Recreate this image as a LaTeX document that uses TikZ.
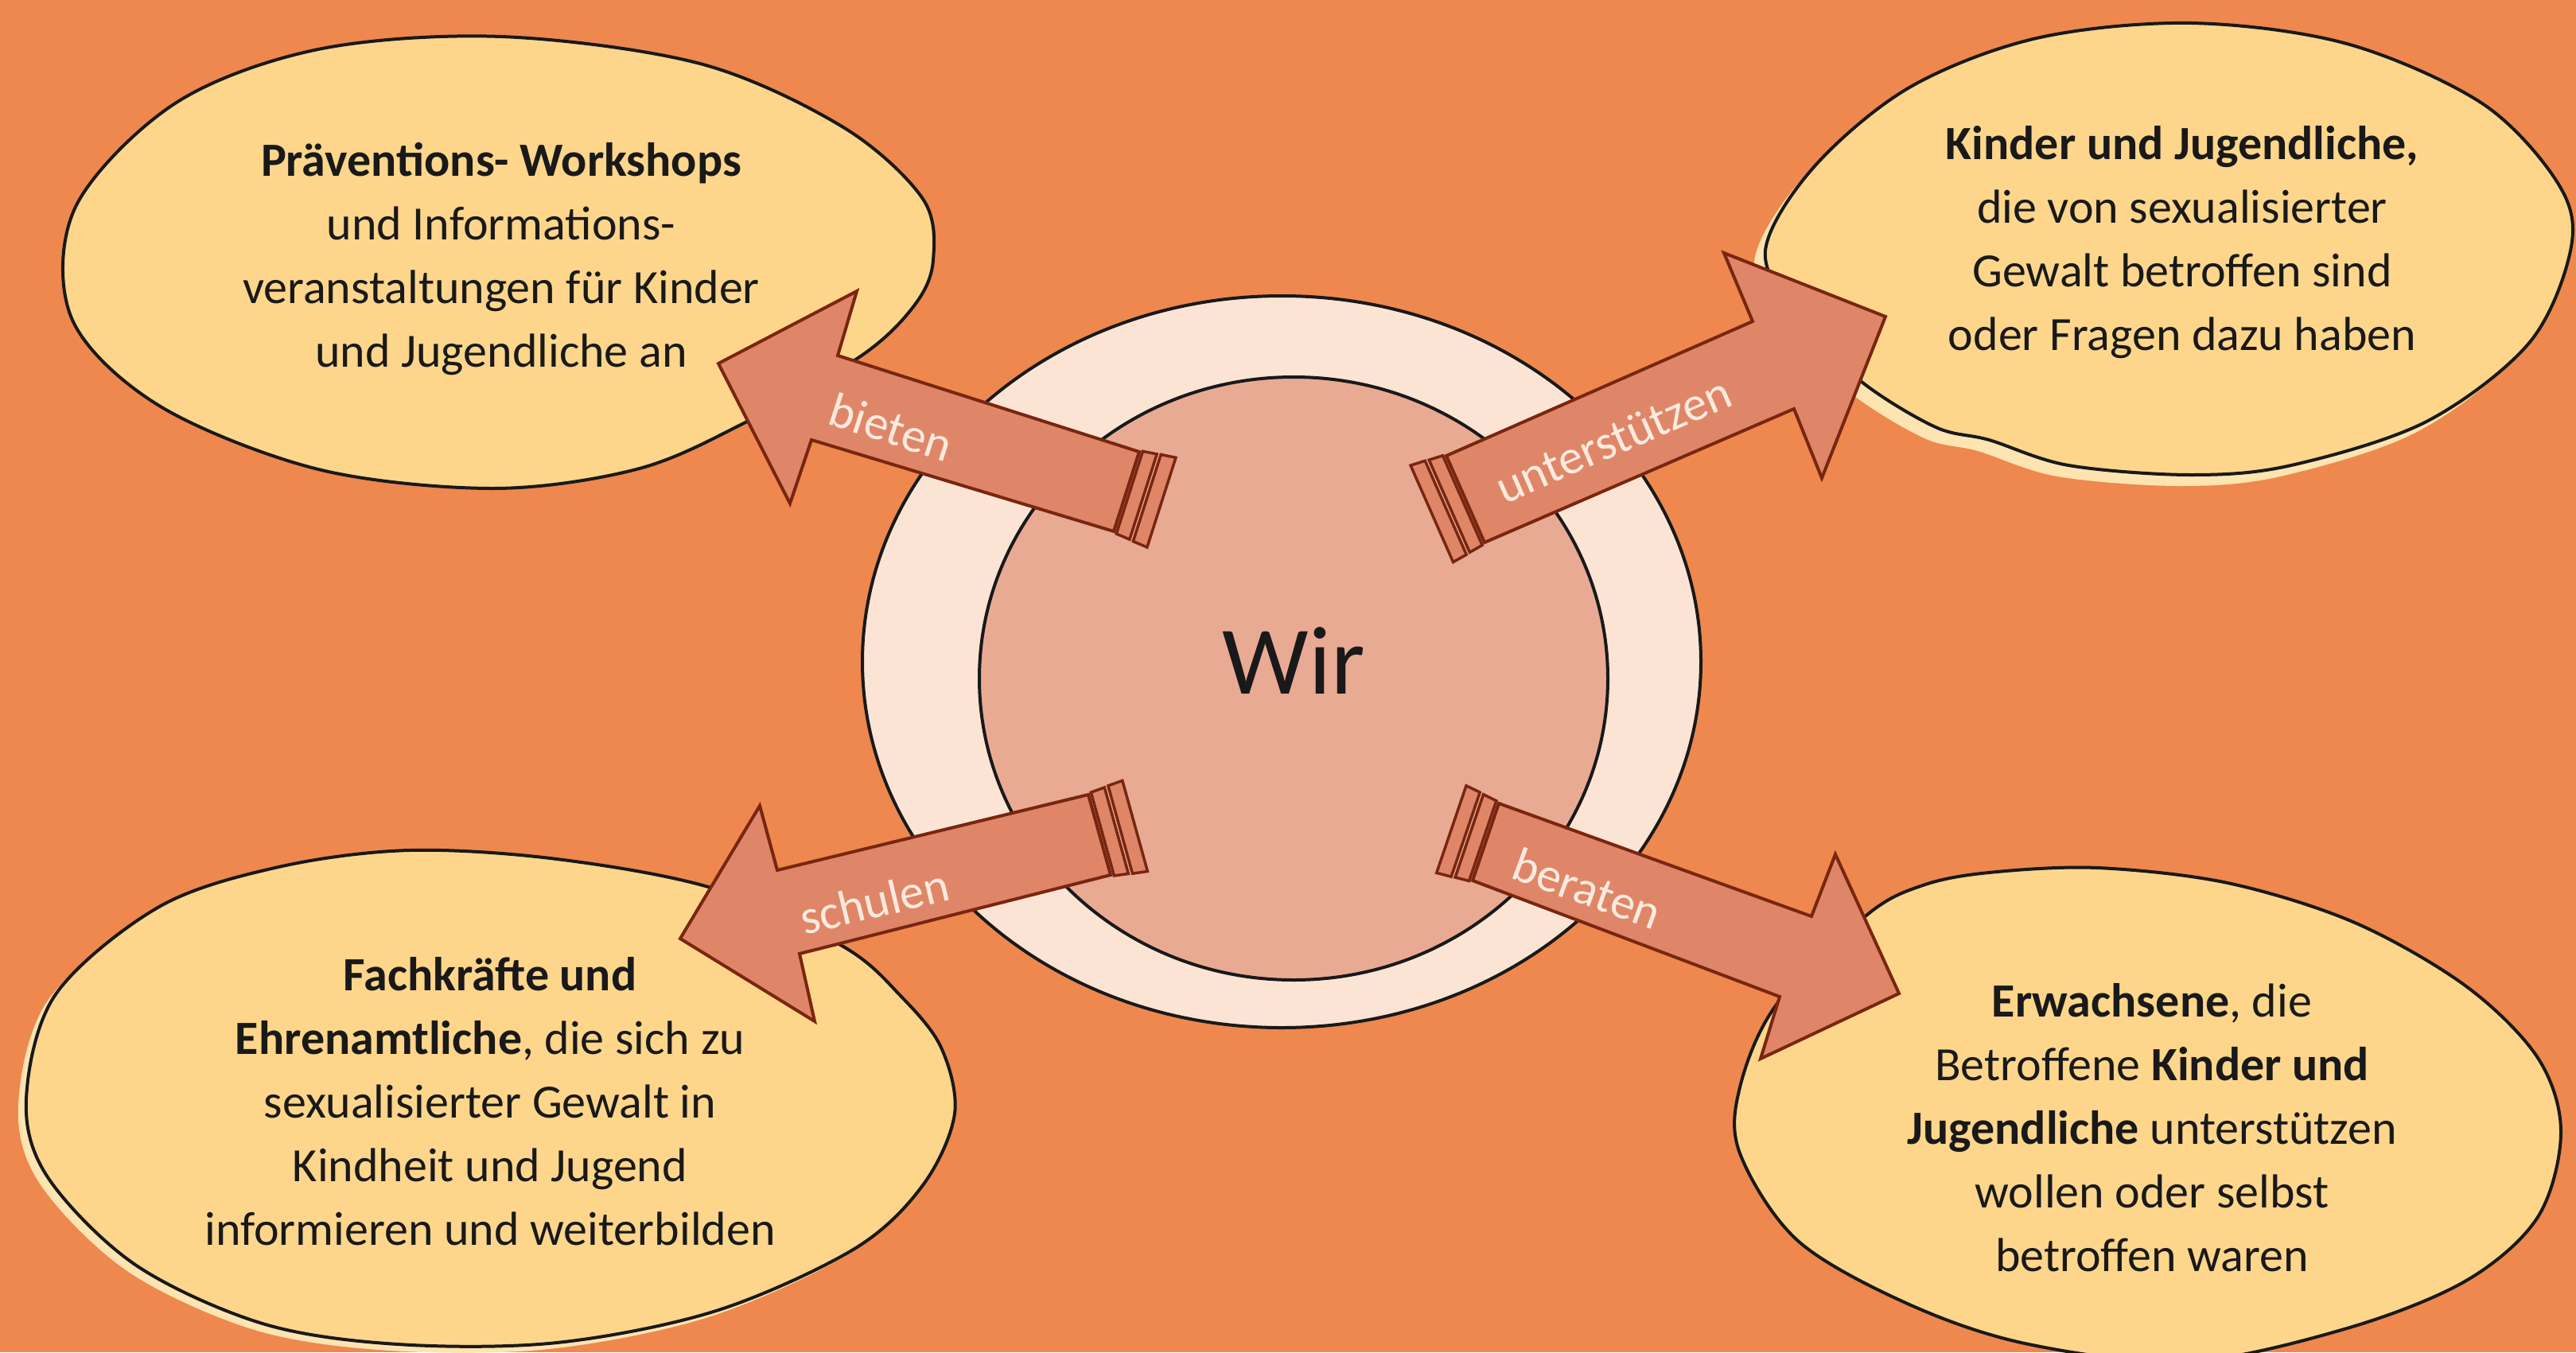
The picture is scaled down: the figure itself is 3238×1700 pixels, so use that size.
\documentclass[tikz,border=0pt]{standalone}
\usepackage{fontspec}
\setmainfont{Carlito}
\usetikzlibrary{calc}
\definecolor{bgorange}{RGB}{238,136,78}
\definecolor{blobyellow}{RGB}{253,214,140}
\definecolor{blobshade}{RGB}{253,228,176}
\definecolor{ringpeach}{RGB}{252,228,212}
\definecolor{corepink}{RGB}{233,170,148}
\definecolor{arrowfill}{RGB}{224,134,104}
\definecolor{arrowline}{RGB}{120,38,16}
\definecolor{arrowtext}{RGB}{252,234,222}
\tikzset{
  bubblefill/.style={fill=blobyellow},
  bubbleshade/.style={fill=blobshade},
  bubbleline/.style={draw=black!90, line width=4pt},
  bubbletext/.style={align=center, font=\fontsize{60}{80}\selectfont, text=black!90},
  ringstyle/.style={fill=ringpeach, draw=black!90, line width=4pt},
  corestyle/.style={fill=corepink, draw=black!90, line width=4pt},
  bigarrow/.style={fill=arrowfill, draw=arrowline, line width=4pt, line join=miter},
  capband/.style={fill=arrowfill, draw=arrowline, line width=3.5pt},
  arrowlabel/.style={font=\fontsize{61}{66}\selectfont, text=arrowtext},
}
\newcommand\drawblockarrow[1]{%
  \draw[bigarrow] (#1-T1) -- (#1-J1) -- (#1-B1) -- (#1-P) -- (#1-B2) -- (#1-J2) -- (#1-T2) -- cycle;
  \path ($(#1-T1)!-4pt!(#1-J1)$) coordinate (#1-a1) ($(#1-T2)!-4pt!(#1-J2)$) coordinate (#1-a2)
        ($(#1-T1)!-22pt!(#1-J1)$) coordinate (#1-b1) ($(#1-T2)!-22pt!(#1-J2)$) coordinate (#1-b2)
        ($(#1-T1)!-27pt!(#1-J1)$) coordinate (#1-c1) ($(#1-T2)!-27pt!(#1-J2)$) coordinate (#1-c2)
        ($(#1-T1)!-46pt!(#1-J1)$) coordinate (#1-d1) ($(#1-T2)!-46pt!(#1-J2)$) coordinate (#1-d2);
  \draw[capband] ($(#1-a1)!-2pt!(#1-a2)$) -- ($(#1-a2)!-2pt!(#1-a1)$) -- ($(#1-b2)!-4pt!(#1-b1)$) -- ($(#1-b1)!-4pt!(#1-b2)$) -- cycle;
  \draw[capband] ($(#1-c1)!-5pt!(#1-c2)$) -- ($(#1-c2)!-5pt!(#1-c1)$) -- ($(#1-d2)!-7pt!(#1-d1)$) -- ($(#1-d1)!-7pt!(#1-d2)$) -- cycle;
}
\begin{document}
\begin{tikzpicture}[x=1pt,y=-1pt]
\useasboundingbox (0,0) rectangle (3238,1700);
\fill[bgorange] (0,0) rectangle (3238,1700);

% ---------- bubbles ----------
\def\tlpts{(630,46) (880,80) (1060,160) (1160,250) (1173,327) (1150,383) (1083,447) (933,533) (800,590) (620,614) (400,590) (200,510) (90,400) (95,260) (220,130) (400,62)}
\def\trpts{(2219,315) (2280,210) (2400,110) (2560,48) (2754,29) (2950,55) (3120,130) (3215,230) (3232,310) (3180,430) (3050,530) (2880,585) (2754,597) (2600,585) (2500,553) (2433,537) (2340,480) (2260,400)}
\def\blpts{(514,1069) (700,1080) (897,1117) (1060,1190) (1133,1253) (1183,1317) (1200,1400) (1160,1490) (1074,1570) (900,1648) (700,1688) (500,1690) (330,1664) (170,1590) (60,1480) (33,1382) (70,1250) (200,1140) (350,1090)}
\def\brpts{(2636,1091) (2800,1110) (2960,1160) (3100,1240) (3190,1330) (3219,1423) (3190,1530) (3100,1610) (2950,1670) (2750,1712) (2550,1690) (2400,1640) (2260,1560) (2187,1450) (2187,1367) (2233,1263) (2347,1150) (2417,1113) (2500,1097)}

\fill[bubbleshade, shift={(-14,14)}] plot[smooth cycle, tension=0.55] coordinates {\trpts};
\fill[bubbleshade, shift={(-10,8)}] plot[smooth cycle, tension=0.55] coordinates {\blpts};
\foreach \pts in {\tlpts,\trpts,\blpts,\brpts}{
  \fill[bubblefill] plot[smooth cycle, tension=0.55] coordinates {\pts};
  \draw[bubbleline] plot[smooth cycle, tension=0.55] coordinates {\pts};
}

% ---------- centre ----------
\draw[ringstyle] (1611,832) ellipse [x radius=527, y radius=460];
\draw[corestyle] (1626,853) ellipse [x radius=395, y radius=379];
\node[font=\fontsize{122}{130}\selectfont, text=black!90] (wir) at (1626,831) {Wir};

% ---------- arrows ----------
% bieten (to top-left)
\coordinate (bi-T1) at (1432,568); \coordinate (bi-J1) at (1053,447); \coordinate (bi-B1) at (1077,366);
\coordinate (bi-P) at (903,457); \coordinate (bi-B2) at (993,633); \coordinate (bi-J2) at (1020,553);
\coordinate (bi-T2) at (1400,668);
% unterstuetzen (to top-right)
\coordinate (un-T1) at (1818,573); \coordinate (un-J1) at (2203,404); \coordinate (un-B1) at (2167,318);
\coordinate (un-P) at (2370,398); \coordinate (un-B2) at (2290,601); \coordinate (un-J2) at (2255,514);
\coordinate (un-T2) at (1866,682);
% schulen (to bottom-left)
\coordinate (sc-T1) at (1368,999); \coordinate (sc-J1) at (977,1094); \coordinate (sc-B1) at (955,1013);
\coordinate (sc-P) at (855,1180); \coordinate (sc-B2) at (1024,1284); \coordinate (sc-J2) at (1005,1199);
\coordinate (sc-T2) at (1396,1100);
% beraten (to bottom-right)
\coordinate (be-T1) at (1884,1010); \coordinate (be-J1) at (2277,1152); \coordinate (be-B1) at (2307,1074);
\coordinate (be-P) at (2387,1249); \coordinate (be-B2) at (2213,1331); \coordinate (be-J2) at (2237,1253);
\coordinate (be-T2) at (1851,1107);

\drawblockarrow{bi}
\drawblockarrow{un}
\drawblockarrow{sc}
\drawblockarrow{be}

\node[arrowlabel, rotate=-18] (lbl-bi) at (1120,537) {bieten};
\node[arrowlabel, rotate=23.5] (lbl-un) at (2028,553) {unterstützen};
\node[arrowlabel, rotate=13.5] (lbl-sc) at (1099,1133) {schulen};
\node[arrowlabel, rotate=-20] (lbl-be) at (1995,1117) {beraten};

% ---------- bubble texts ----------
\node[bubbletext] (txt-tl) at (630,326) {\textbf{Präventions- Workshops}\\und Informations-\\veranstaltungen für Kinder\\und Jugendliche an};
\node[bubbletext] (txt-tr) at (2743,305) {\textbf{Kinder und Jugendliche,}\\die von sexualisierter\\Gewalt betroffen sind\\oder Fragen dazu haben};
\node[bubbletext] (txt-bl) at (616,1385) {\textbf{Fachkräfte und}\\\textbf{Ehrenamtliche}, die sich zu\\sexualisierter Gewalt in\\Kindheit und Jugend\\informieren und weiterbilden};
\node[bubbletext] (txt-br) at (2705,1418) {\textbf{Erwachsene}, die\\Betroffene \textbf{Kinder und}\\\textbf{Jugendliche} unterstützen\\wollen oder selbst\\betroffen waren};
\end{tikzpicture}
\end{document}
